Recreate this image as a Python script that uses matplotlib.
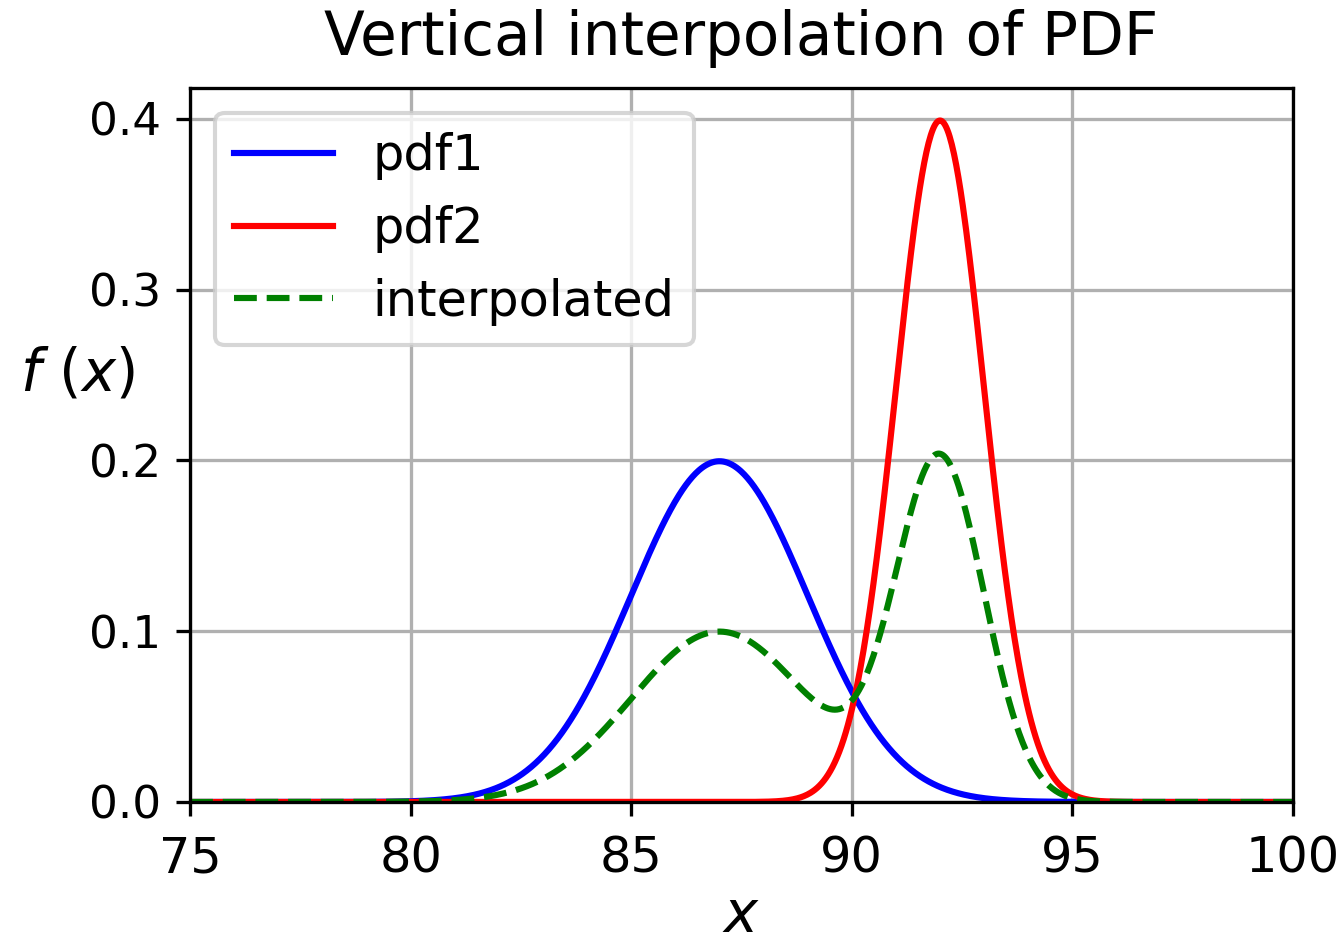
import numpy as np
import matplotlib
matplotlib.use("Agg")
import matplotlib.pyplot as plt

# distribution parameters
mu1, sigma1 = 87.0, 2.0    # pdf1 peaks at 0.2
mu2, sigma2 = 92.0, 1.0    # pdf2 peaks at 0.4
weight = 0.5               # vertical (linear) interpolation weight
x_range = [75, 100]

def normal_pdf(x, mu, sigma):
    return np.exp(-0.5 * ((x - mu) / sigma) ** 2) / (sigma * np.sqrt(2 * np.pi))

x = np.linspace(x_range[0], x_range[1], 1000)
pdf1 = normal_pdf(x, mu1, sigma1)
pdf2 = normal_pdf(x, mu2, sigma2)
interp = (1 - weight) * pdf1 + weight * pdf2

dpi = 296
fig = plt.figure(figsize=(1344 / dpi, 952 / dpi), dpi=dpi)
ax = fig.add_axes([0.1414, 0.1576, 0.8206, 0.75])

ax.plot(x, pdf1, color='b', label='pdf1')
ax.plot(x, pdf2, color='r', label='pdf2')
ax.plot(x, interp, 'g--', label='interpolated')

ax.set_xlim(x_range)
ax.set_ylim(0, 0.418)
ax.grid(True)
ax.tick_params(axis='x', labelsize=12, pad=4.5)
ax.tick_params(axis='y', labelsize=11)
ax.legend(loc='upper left', fontsize=12)
ax.set_title('Vertical interpolation of PDF', fontsize=14.5, pad=8)
ax.set_xlabel(r'$x$', fontsize=14, labelpad=1)
ax.set_ylabel(r'$f\ (x)$', fontsize=14, rotation=0, labelpad=0)
ax.yaxis.set_label_coords(-0.102, 0.56)

fig.savefig('out.png', dpi=dpi)
